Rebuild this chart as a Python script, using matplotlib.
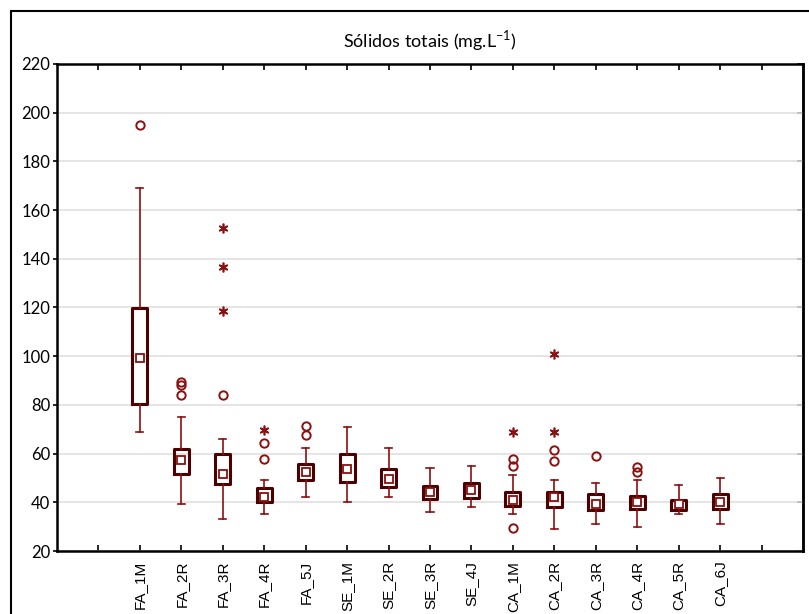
import matplotlib
matplotlib.use("Agg")
import matplotlib.pyplot as plt
from matplotlib.patches import Rectangle

# Box plot values (Statistica-style: median, 25-75%, non-outlier range)
groups = ["FA_1M", "FA_2R", "FA_3R", "FA_4R", "FA_5J", "SE_1M", "SE_2R", "SE_3R",
          "SE_4J", "CA_1M", "CA_2R", "CA_3R", "CA_4R", "CA_5R", "CA_6J"]
medians = [99.1, 57.2, 51.5, 42.3, 52.3, 53.7, 49.4, 44.4, 45.2, 40.8, 42.2, 39.4, 40.1, 39.2, 40.1]
q1 = [80.4, 51.5, 47.4, 40.3, 49.2, 48.2, 46.4, 41.4, 41.9, 38.6, 38.2, 36.8, 37.2, 36.8, 37.2]
q3 = [119.8, 61.9, 59.8, 45.9, 55.7, 59.8, 53.8, 46.8, 47.9, 44.2, 44.2, 43.4, 42.7, 40.9, 43.4]
whisk_lo = [68.9, 39.2, 33.0, 35.2, 42.2, 40.1, 42.2, 36.0, 38.1, 35.3, 29.0, 31.2, 30.0, 35.1, 31.1]
whisk_hi = [168.9, 75.0, 66.1, 49.0, 62.2, 70.9, 62.2, 54.2, 55.0, 51.1, 49.0, 47.9, 49.0, 47.2, 50.1]
outliers = {
    "FA_1M": [195.1],
    "FA_2R": [84.2, 88.0, 89.3],
    "FA_3R": [84.2],
    "FA_4R": [57.7, 64.2],
    "FA_5J": [67.6, 71.3],
    "CA_1M": [29.3, 55.0, 57.7],
    "CA_2R": [57.1, 61.5],
    "CA_3R": [59.2],
    "CA_4R": [52.6, 54.6],
}
extremes = {
    "FA_3R": [118.7, 136.5, 152.8],
    "FA_4R": [69.6],
    "CA_1M": [68.9],
    "CA_2R": [68.9, 101.0],
}

box_color = "#4d0000"
line_color = "#8b1010"

fig = plt.figure(figsize=(8.09, 6.14), dpi=100)
ax = fig.add_axes([57 / 809, 1 - 551 / 614, (803 - 57) / 809, (551 - 64) / 614])

# outer frame around the plot area
fig.patches.append(Rectangle((11 / 809, 0 - 0.05), 1.2, 1 - 11 / 614 + 0.05,
                             transform=fig.transFigure, fill=False,
                             edgecolor="black", linewidth=1.5, zorder=0))

positions = list(range(1, len(groups) + 1))
stats = []
for i, g in enumerate(groups):
    stats.append(dict(label=g, med=medians[i], q1=q1[i], q3=q3[i],
                      whislo=whisk_lo[i], whishi=whisk_hi[i], fliers=[]))

ax.bxp(stats, positions=positions, widths=0.36, showfliers=False,
       boxprops=dict(color=box_color, linewidth=2.2),
       whiskerprops=dict(color=line_color, linewidth=1.2),
       capprops=dict(color=line_color, linewidth=1.2),
       medianprops=dict(linewidth=0),
       capwidths=0.17, zorder=3)

ax.plot(positions, medians, linestyle="none", marker="s", markersize=6,
        markerfacecolor="white", markeredgecolor=line_color, markeredgewidth=1.3, zorder=4)

for g, vals in outliers.items():
    p = groups.index(g) + 1
    ax.plot([p] * len(vals), vals, linestyle="none", marker="o", markersize=6,
            markerfacecolor="none", markeredgecolor=line_color, markeredgewidth=1.4, zorder=4)

for g, vals in extremes.items():
    p = groups.index(g) + 1
    ax.plot([p] * len(vals), vals, linestyle="none", marker=(6, 2, 0), markersize=7,
            markeredgecolor=line_color, markeredgewidth=1.2, zorder=4)

ax.set_xlim(-1, 17)
ax.set_ylim(20, 220)
ax.set_yticks(range(20, 221, 20))
ax.set_xticks(range(0, 17))
ax.set_xticklabels([""] + groups + [""], rotation=90, family="Liberation Sans", fontsize=11)
for lab in ax.get_yticklabels():
    lab.set_family("Lato")
    lab.set_fontsize(12)

ax.yaxis.grid(True, color="#e0e0e0", linewidth=1.2, zorder=0)
ax.set_axisbelow(True)
for s in ax.spines.values():
    s.set_linewidth(1.8)

ax.tick_params(axis="x", direction="in", length=4, width=1.2, top=True, pad=7)
ax.tick_params(axis="y", direction="out", length=3, width=1.2, pad=2)

# right-hand ticks point inward
right = ax.secondary_yaxis("right")
right.set_yticks(range(20, 221, 20))
right.tick_params(direction="in", length=4, width=1.2, labelright=False)
right.spines["right"].set_linewidth(1.8)

ax.set_title("Sólidos totais (mg.L$^{\\mathregular{-1}}$)", family="Lato", fontsize=13, pad=12)

fig.savefig("out.png", dpi=100)
